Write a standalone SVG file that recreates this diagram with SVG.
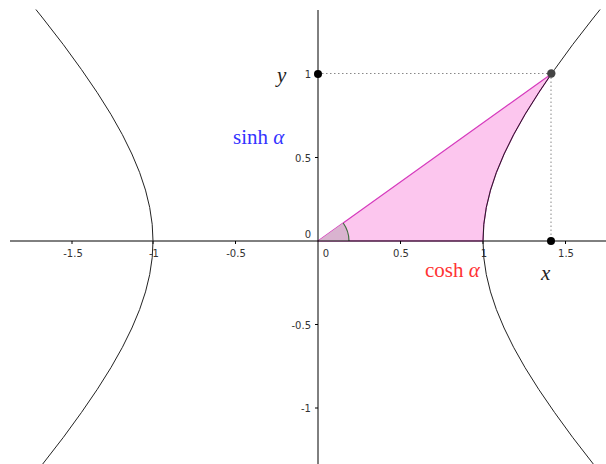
<svg xmlns="http://www.w3.org/2000/svg" width="606" height="464" viewBox="0 0 606 464">
<style>
.axis{stroke:#000;stroke-width:1;fill:none}
.tick{stroke:#000;stroke-width:1}
.tl{font-family:"DejaVu Sans","Liberation Sans",sans-serif;font-size:10px;fill:#333}
.curve{fill:none;stroke:#222;stroke-width:1;stroke-linejoin:round}
.dot{stroke:none;fill:#000}
.dash{stroke:#888;stroke-width:1;stroke-dasharray:1.5 2.5;fill:none}
.math{font-family:"Liberation Serif","DejaVu Serif",serif;font-size:21px}
</style>
<rect width="606" height="464" fill="#fff"/>
<g id="region">
<path d="M318,241 L551.3,74 L538.7,92.7 L525.1,114.3 L513.6,134.7 L504.1,154 L496.4,172.4 L490.5,190.1 L486.3,207.4 L483.8,224.3 L483,241 Z" fill="#fcc6ee" stroke="#d63bbd" stroke-width="1.2" stroke-linejoin="round"/>
</g>
<g id="angle">
<path d="M318,241 L349,241 A31,31 0 0 0 343.2,223 Z" fill="#d9b3cf" stroke="none"/>
<path d="M349,241 A31,31 0 0 0 343.2,223" fill="none" stroke="#3f6e3f" stroke-width="1.2"/>
</g>
<g id="axes">
<line class="axis" x1="10" y1="241" x2="606" y2="241"/>
<line class="axis" x1="318" y1="10" x2="318" y2="464"/>
<g class="tick">
<line x1="72" y1="241" x2="72" y2="244"/>
<line x1="153" y1="241" x2="153" y2="244"/>
<line x1="235.5" y1="241" x2="235.5" y2="244"/>
<line x1="400.5" y1="241" x2="400.5" y2="244"/>
<line x1="483" y1="241" x2="483" y2="244"/>
<line x1="565.5" y1="241" x2="565.5" y2="244"/>
<line x1="315" y1="74" x2="318" y2="74"/>
<line x1="315" y1="157.5" x2="318" y2="157.5"/>
<line x1="315" y1="324.5" x2="318" y2="324.5"/>
<line x1="315" y1="408" x2="318" y2="408"/>
</g>
<g class="tl" text-anchor="middle">
<text x="73" y="257">-1.5</text>
<text x="154" y="257">-1</text>
<text x="236" y="257">-0.5</text>
<text x="326" y="257">0</text>
<text x="401" y="257">0.5</text>
<text x="484" y="257">1</text>
<text x="566" y="257">1.5</text>
</g>
<g class="tl" text-anchor="end">
<text x="311" y="78">1</text>
<text x="311" y="161.5">0.5</text>
<text x="311" y="238">0</text>
<text x="311" y="328.5">-0.5</text>
<text x="311" y="412">-1</text>
</g>
</g>
<g id="hyperbola">
<polyline class="curve" points="593.3,464 572.6,437.3 554.5,412.4 538.7,389.3 525.1,367.7 513.6,347.3 504.1,328 496.4,309.6 490.5,291.9 486.3,274.6 483.8,257.7 483,241 483.8,224.3 486.3,207.4 490.5,190.1 496.4,172.4 504.1,154 513.6,134.7 525.1,114.3 538.7,92.7 551.3,74 554.5,69.6 572.6,44.7 593.3,18 600.1,9.5"/>
<polyline class="curve" points="42.7,464 63.4,437.3 81.5,412.4 97.3,389.3 110.9,367.7 122.4,347.3 131.9,328 139.6,309.6 145.5,291.9 149.7,274.6 152.2,257.7 153,241 152.2,224.3 149.7,207.4 145.5,190.1 139.6,172.4 131.9,154 122.4,134.7 110.9,114.3 97.3,92.7 81.5,69.6 63.4,44.7 42.7,18 35.9,9.5"/>
</g>
<g id="connectors">
<line class="dash" x1="318" y1="73.5" x2="551" y2="73.5"/>
<line class="dash" x1="551" y1="73.5" x2="551" y2="241"/>
</g>
<g id="point-y"><circle class="dot" cx="318" cy="74" r="4"/></g>
<g id="point-x"><circle class="dot" cx="551" cy="241" r="4"/></g>
<g id="point-p"><circle cx="551.3" cy="73.5" r="4.2" fill="#444"/></g>
<g id="labels">
<text class="math" x="277" y="82" font-style="italic" fill="#222">y</text>
<text class="math" x="541" y="280" font-style="italic" fill="#222">x</text>
<text class="math" x="233" y="144" fill="#3333ff">sinh <tspan font-style="italic">α</tspan></text>
<text class="math" x="425" y="277" fill="#ff3333">cosh <tspan font-style="italic">α</tspan></text>
</g>
</svg>
